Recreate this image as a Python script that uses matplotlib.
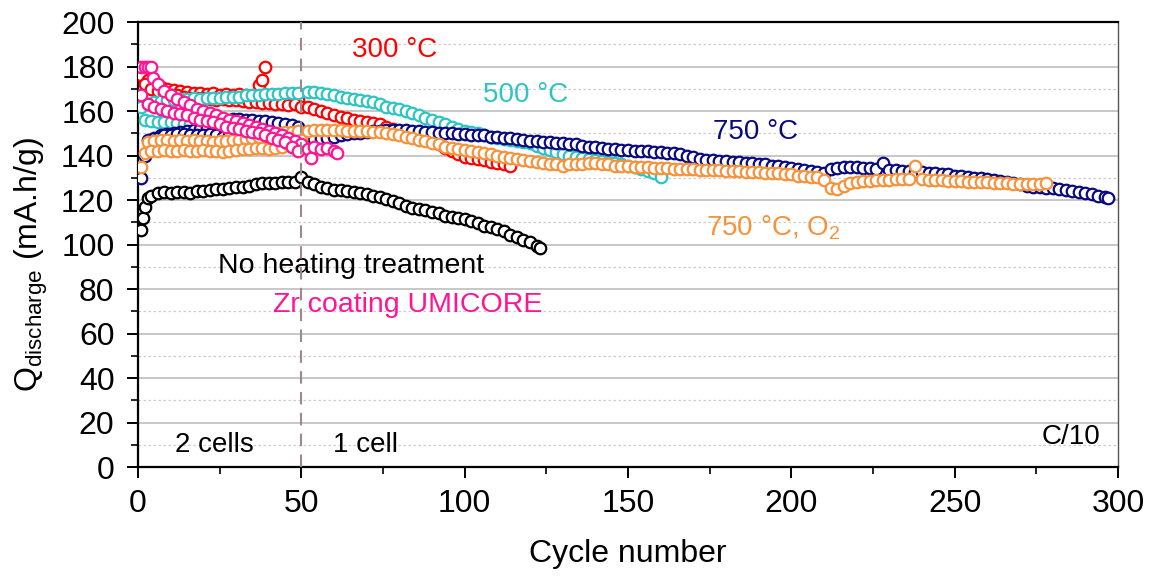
import matplotlib
matplotlib.use('Agg')
import matplotlib.pyplot as plt

plt.rcParams['font.family'] = ['Liberation Sans', 'DejaVu Sans']
plt.rcParams['mathtext.fontset'] = 'custom'
plt.rcParams['mathtext.rm'] = 'Liberation Sans'
plt.rcParams['mathtext.it'] = 'Liberation Sans:italic'

# ---- data (cycle number, discharge capacity mA.h/g) ----
# 300 °C (red): two cells up to cycle 50, then one cell
red_a_x = [1, 3, 5, 7, 9, 11, 13, 15, 17, 19, 21, 23, 25, 27, 29, 31, 33, 35, 37, 38, 39, 41, 43, 45, 47, 49]
red_a_y = [176, 174, 172, 171, 170, 169.5, 169, 168.5, 168, 168, 167.5, 168, 167, 167.5, 167, 167.5,
           167, 166.5, 171.5, 174, 180, 167, 166, 165.5, 165, 165]
red_b_x = list(range(2, 51, 2))
red_b_y = [172, 170, 169, 168, 167, 167, 166.5, 166, 166, 166, 165.5, 165, 165.5, 165, 165, 164.5,
           164, 164, 163.5, 163.5, 163, 163, 162.5, 163, 162]
red_x = list(range(52, 115, 2))
red_y = [162, 161, 160, 159, 158, 157.5, 157, 156, 155.5, 155, 154.5, 154, 153, 152, 151, 150,
         149, 148, 147, 146.5, 145, 143.5, 142, 140.5, 139.5, 139, 138.5, 138, 137, 136.5, 136, 135.5]

# 500 °C (cyan)
cyan_a_x = list(range(1, 50, 2))
cyan_a_y = [162, 163, 164, 164.5, 165, 165, 165.5, 165.5, 166, 165.5, 166, 166, 166, 166.5, 166.5,
            166.5, 167, 167, 167, 167.5, 167.5, 167.5, 168, 168, 168]
cyan_b_x = list(range(2, 51, 2))
cyan_b_y = [156, 155.5, 155, 155, 155, 154.5, 154, 154, 153.5, 153, 153, 152.5, 152.5, 152, 152,
            151.5, 151.5, 151, 151, 150.5, 150.5, 150, 150, 150, 149.5]
cyan_x = list(range(52, 161, 2))
cyan_y = [168.5, 168.5, 168, 167.5, 167, 166.5, 166, 165.5, 165, 164.5, 164, 163, 162, 161.5, 161,
          160, 159, 158, 157, 156, 155, 154, 153, 152, 151, 150.5, 150, 149, 148.5, 148, 147.5,
          147, 146.5, 146, 145.5, 144.5, 143.5, 142.5, 141.5, 140.5, 140, 139.5, 139, 138.5, 138,
          137.5, 137, 136.5, 136, 135.5, 135, 134, 133, 132, 130.5]

# 750 °C (navy)
navy_a_x = [1] + list(range(3, 50, 2))
navy_a_y = [130, 147, 148, 149, 149.5, 150, 150.5, 151, 151.5, 152, 152.5, 153.5, 155, 156, 156.5,
            156.5, 156, 156, 155.5, 155.5, 155, 154.5, 154, 153.5, 153]
navy_b_x = list(range(2, 51, 2))
navy_b_y = [140, 146, 148, 149, 149, 149.5, 149.5, 149, 149, 149, 149.5, 149, 148.5, 149, 149,
            148.5, 148.5, 148, 148, 148, 147.5, 147.5, 147, 147, 147]
navy_x = list(range(52, 297, 2)) + [297]
navy_y = [147.5, 147.5, 148, 148, 148.5, 149, 149.5, 150, 150, 150.5, 151, 151, 151.5, 151.5, 151.5,
          151.5, 151, 151, 150.5, 150.5, 150, 150, 150, 149.5, 149.5, 149, 149, 149, 148.5, 148.5,
          148, 148, 147.5, 147, 146.5, 146.5, 146, 146, 145.5, 145.5, 145, 145, 144.5, 144, 144,
          143.5, 143, 143, 142.5, 142.5, 142, 142, 142, 141.5, 141.5, 141, 141, 140.5, 140, 139.5,
          138.5, 138, 138, 137.5, 137.5, 137, 137, 136.5, 136.5, 136, 136, 135.5, 135.5, 135, 134.5,
          134, 133.5, 133, 132.5, 132, 134, 134.5, 135, 135, 135, 134.5, 134.5, 134, 136.5, 133.5,
          133.5, 133, 133, 132.5, 132.5, 132, 132, 131.5, 131.5, 131, 131, 130.5, 130, 130, 129.5,
          129, 128.5, 128, 127.5, 127, 126.5, 126, 126, 125.5, 125.5, 125, 124.5, 124, 123.5, 123,
          122.5, 122, 121.5, 121]

# 750 °C, O2 (orange)
orange_a_x = [1] + list(range(3, 50, 2))
orange_a_y = [135, 146, 146.5, 147, 147, 146.5, 147, 146.5, 147, 146.5, 146.5, 146, 146.5, 146.5,
              147, 147, 147.5, 148, 148.5, 149, 149.5, 150, 150.5, 150.5, 151]
orange_b_x = list(range(2, 51, 2))
orange_b_y = [141, 142, 142, 142.5, 142, 142, 142.5, 142, 142, 142.5, 142, 142, 141.5, 142, 142.5,
              143, 143, 143.5, 143.5, 143, 143.5, 144, 145, 146, 147]
orange_x = list(range(52, 279, 2))
orange_y = [151, 151.5, 151.5, 151.5, 151.5, 151.5, 151, 151, 151, 151, 150.5, 150.5, 150, 149.5,
            149, 148.5, 148, 147, 146.5, 145.5, 145, 144, 143.5, 143, 142.5, 142, 141.5, 141,
            140.5, 140, 139.5, 139, 138.5, 138, 137.5, 137, 136.5, 136, 136, 135.5, 136, 136, 136,
            136.5, 136.5, 136, 136, 135.5, 135.5, 135.5, 135, 135, 135, 134.5, 134.5, 134.5, 134,
            134, 134, 134, 133.5, 133.5, 133.5, 133.5, 133, 133, 133, 132.5, 132.5, 132.5, 132,
            132, 132, 131.5, 131.5, 131, 131, 130.5, 130.5, 129, 125.5, 125, 126.5, 127.5, 128,
            128.5, 128.5, 129, 129, 129, 129.5, 129.5, 129.5, 135.5, 129.5, 129, 129, 129, 128.5,
            128.5, 128.5, 128, 128, 128, 128, 127.5, 127.5, 127.5, 127, 127, 127, 127, 127, 127.5]

# Zr coating UMICORE (pink)
pink_a_x = [1, 2, 3, 4, 4.5, 6, 8, 10, 12, 14, 16, 18, 20, 22, 24, 26, 28, 30, 32, 34, 36, 38, 40,
            42, 44, 46, 48, 50]
pink_a_y = [180, 180, 180, 180, 175, 172, 169, 167, 165.5, 164, 162.5, 161, 160, 159, 158, 157,
            156, 155.5, 154.5, 153.5, 153, 152, 151, 150, 149, 148, 146.5, 145]
pink_b_x = list(range(1, 50, 2))
pink_b_y = [167, 163, 162, 161, 160, 159, 158.5, 158, 157, 156, 155.5, 155, 154, 153, 152.5, 152,
            151, 150.5, 150, 149, 148, 147, 146, 144, 142]
pink_x = [52, 53, 54, 56, 58, 60, 61]
pink_y = [143, 139, 144, 143, 143.5, 142, 141]

# No heating treatment (black)
black_x = [1, 1.5, 2, 3] + list(range(4, 51, 2)) + list(range(52, 123, 2)) + [123]
black_y = [106.5, 112, 117, 121, 122, 123, 123.5, 123, 123.5, 123.5, 123, 124, 124, 124.5, 125, 125,
           125.5, 126, 126, 126.5, 127, 127.5, 127.5, 127.5, 128, 128, 128, 130.5,
           128, 127, 126, 125.5, 124.5, 124.5, 124, 123.5, 123, 122.5, 122, 121.5, 120.5, 119.5,
           118.5, 117.5, 116.5, 116, 115.5, 114.5, 114, 113, 112.5, 112, 111.5, 110.5, 109.5,
           108.5, 108, 107, 106, 104.5, 103.5, 102, 101, 99.5, 98.5]

c_red = '#ff0000'
c_cyan = '#2ec4c4'
c_navy = '#0a0a80'
c_orange = '#f7923a'
c_pink = '#ff1493'
c_black = '#000000'

fig = plt.figure(figsize=(11.54, 5.81), dpi=100)
ax = fig.add_axes([0.1196, 0.1962, 0.8492, 0.7659])

mk = dict(marker='o', linestyle='none', ms=8.3, mew=1.6, mfc='white')
groups = [
    (c_red, [(red_a_x, red_a_y), (red_b_x, red_b_y), (red_x, red_y)]),
    (c_cyan, [(cyan_a_x, cyan_a_y), (cyan_b_x, cyan_b_y), (cyan_x, cyan_y)]),
    (c_navy, [(navy_a_x, navy_a_y), (navy_b_x, navy_b_y), (navy_x, navy_y)]),
    (c_orange, [(orange_a_x, orange_a_y), (orange_b_x, orange_b_y), (orange_x, orange_y)]),
    (c_pink, [(pink_a_x, pink_a_y), (pink_b_x, pink_b_y), (pink_x, pink_y)]),
    (c_black, [(black_x, black_y)]),
]
z = 3
for col, parts in groups:
    for xs, ys in parts:
        assert len(xs) == len(ys), (col, len(xs), len(ys))
        ax.plot(xs, ys, color=col, mec=col, zorder=z, **mk)
    z += 0.1

ax.axvline(50, color='#9c8a8a', lw=1.5, dashes=(6, 4), zorder=5)

ax.set_xlim(0, 300)
ax.set_ylim(0, 200)
ax.set_xticks(range(0, 301, 50))
ax.set_xticks(range(25, 300, 50), minor=True)
ax.set_yticks(range(0, 201, 20))
ax.set_yticks(range(10, 200, 20), minor=True)
ax.yaxis.grid(True, which='major', color='#b8b8b8', lw=1.1, ls='-')
ax.yaxis.grid(True, which='minor', color='#cccccc', lw=0.9, ls=(0, (2, 2)))
ax.set_axisbelow(True)

ax.tick_params(which='major', direction='out', length=8, width=1.4, labelsize=23)
ax.tick_params(axis='x', which='major', pad=8)
ax.tick_params(axis='y', which='major', pad=9)
ax.tick_params(which='minor', direction='out', length=5, width=1.2)
ax.tick_params(top=False, right=False)
for s in ['left', 'bottom', 'top']:
    ax.spines[s].set_linewidth(1.6)
ax.spines['right'].set_color('#555555')
ax.spines['right'].set_linewidth(1.0)

ax.set_xlabel('Cycle number', fontsize=23, labelpad=14)
ax.set_ylabel(r'Q$_{\mathrm{discharge}}$ (mA.h/g)', fontsize=23)
ax.yaxis.set_label_coords(-0.09, 0.455)

tk = dict(fontsize=20, va='center', ha='left')
ax.text(65.5, 187.5, '300 °C', color=c_red, **tk)
ax.text(105.5, 167.2, '500 °C', color=c_cyan, **tk)
ax.text(176, 150.6, '750 °C', color=c_navy, **tk)
ax.text(174, 107.4, '750 °C, O$_2$', color=c_orange, **tk)
ax.text(24.5, 90.3, 'No heating treatment', color='black', fontsize=20.5, va='center', ha='left')
ax.text(41.3, 72.8, 'Zr coating UMICORE', color=c_pink, fontsize=20.5, va='center', ha='left')
ax.text(11.3, 9.9, '2 cells', color='black', **tk)
ax.text(59.7, 9.9, '1 cell', color='black', **tk)
ax.text(294.5, 13.5, 'C/10', color='black', fontsize=20, va='center', ha='right')

fig.savefig('out.png', dpi=100)
